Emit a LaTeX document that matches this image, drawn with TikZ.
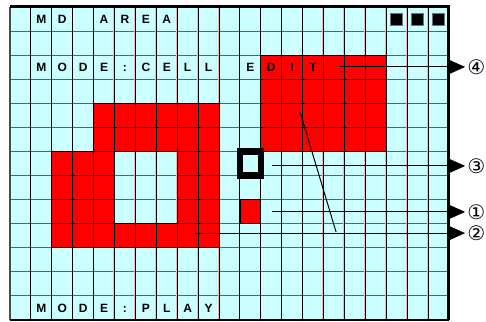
\documentclass[tikz,border=0pt]{standalone}
\usepackage{fontspec}
\setmainfont{Liberation Sans}
\newfontfamily\circfont{DejaVu Sans}
\usetikzlibrary{arrows.meta}
\definecolor{lcd}{HTML}{CCFFFF}
\definecolor{pix}{HTML}{FF0000}
\definecolor{rule}{HTML}{D03030}
\tikzset{
  cell/.style={fill=pix, draw=black, line width=0.8pt},
  lbl/.style={
    font=\fontsize{12}{14}\selectfont\bfseries,
    inner sep=0pt, text height=8.6pt, text depth=0pt
  },
  dot/.style={
    fill=black, draw=black!55, line width=0.6pt,
    minimum width=12pt, minimum height=12pt, inner sep=0pt
  },
  num/.style={font=\circfont\fontsize{20}{24}\selectfont, inner sep=0pt, anchor=west},
  callout/.style={-{Triangle[length=17pt,width=15pt]}, line width=1pt, shorten >=2pt},
  cursor/.style={draw=black, line width=6.5pt}
}

\begin{document}
\begin{tikzpicture}[x=1pt, y=1pt]
  \useasboundingbox (0,0) rectangle (486,-321);
  \begin{scope}[shift={(10,-7)}, x=20.9pt, y=-24.08pt]
    % screen background and ruling
    \fill[lcd] (0,0) rectangle (21,13);
    \foreach \r in {1,...,12}
      \draw[rule, line width=1pt] (0,\r) -- (21,\r);
    \foreach \c in {1,...,20} {
      \draw[rule!35, line width=0.6pt] ([xshift=-0.8pt]\c,0) -- ([xshift=-0.8pt]\c,13);
      \draw[black, line width=0.9pt] (\c,0) -- (\c,13);
    }
    % lit cells
    \foreach \r/\a/\b in {2/12/17, 3/12/17, 4/4/9, 4/12/17, 5/4/9, 5/12/17,
        6/2/4, 6/8/9, 7/2/4, 7/8/9, 8/2/4, 8/8/9, 8/11/11, 9/2/9}
      \foreach \c in {\a,...,\b}
        \draw[cell] (\c,\r) rectangle ++(1,1);
    % cursor
    \draw[cursor] (11,6) rectangle (12,7);
    % frame
    \draw[black!70, line width=2pt] (0,0) -- (0,13);
    \draw[line width=2pt] (0,13) -- (21,13);
    \draw[line width=3pt] (0,0) -- (21,0) -- (21,13);
    % texts
    \foreach \ch/\c in {M/1, D/2, A/4, R/5, E/6, A/7}
      \node[lbl] (ta\c) at (\c+0.5,0.5) {\ch};
    \foreach \ch/\c in {M/1, O/2, D/3, E/4, :/5, C/6, E/7, L/8, L/9,
        E/11, D/12, I/13, T/14}
      \node[lbl] (tb\c) at (\c+0.5,2.5) {\ch};
    \foreach \ch/\c in {M/1, O/2, D/3, E/4, :/5, P/6, L/7, A/8, Y/9}
      \node[lbl] (tc\c) at (\c+0.5,12.5) {\ch};
    \foreach \c in {18,19,20}
      \node[dot] (sq\c) at (\c+0.5,0.5) {};
    % callouts
    \node[num] (n4) at (21.87,2.49) {④};
    \node[num] (n3) at (21.87,6.6) {③};
    \node[num] (n1) at (21.87,8.51) {①};
    \node[num] (n2) at (21.87,9.39) {②};
    \coordinate (s4) at (15.79,2.49);
    \coordinate (s3) at (12.54,6.6);
    \coordinate (s1) at (12.54,8.51);
    \coordinate (s2) at (8.85,9.39);
    \coordinate (d1) at (13.88,4.36);
    \coordinate (d2) at (15.6,9.34);
    \draw[callout] (s4) -- (n4.west);
    \draw[callout] (s3) -- (n3.west);
    \draw[callout] (s1) -- (n1.west);
    \draw[callout] (s2) -- (n2.west);
    \draw[line width=1pt] (d1) -- (d2);
  \end{scope}
\end{tikzpicture}
\end{document}
